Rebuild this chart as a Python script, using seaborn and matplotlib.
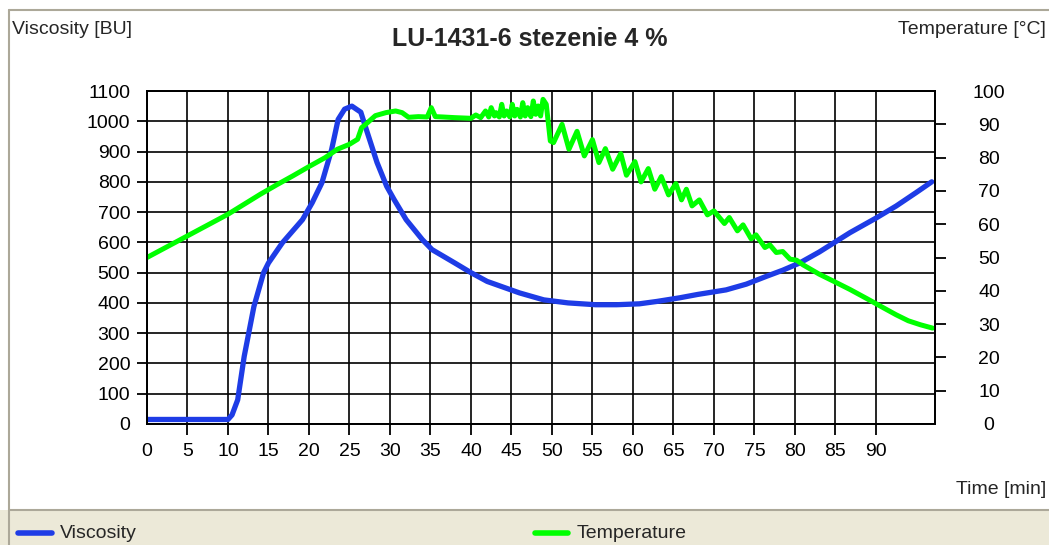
import matplotlib
matplotlib.use("Agg")
import matplotlib.pyplot as plt
import seaborn as sns
from matplotlib.lines import Line2D
from matplotlib.patches import Rectangle

# -----------------------------------------
# DATA
# -----------------------------------------

visc_time = [0, 2, 4, 6, 8, 10, 10.5, 11.2, 12, 13.2, 14.4, 15, 16.7, 19.2, 20.4,
             21.6, 22.8, 23.6, 24.4, 25.3, 26.4, 27.2, 28.4, 29.6, 30.5, 32, 34,
             35.2, 38, 40, 42, 46, 49, 52, 55.4, 58, 60.8, 63, 65.8, 68, 71.5, 74,
             76.5, 78.5, 80.6, 83, 86.8, 90, 92.5, 95, 96.9]
visc_bu = [15, 15, 15, 15, 15, 15, 30, 80, 223, 388, 500, 532, 598, 675, 731,
           797, 907, 1006, 1040, 1050, 1030, 963, 864, 785, 742, 675, 609,
           576, 532, 500, 471, 433, 410, 400, 394, 394, 397, 405, 417, 428, 443, 462,
           488, 508, 532, 568, 632, 680, 720, 765, 800]

temp_time = [0, 2, 4, 6, 8, 10, 12, 14, 16, 18, 20, 22, 23.5, 25, 26, 26.5, 27,
             28.2, 29.5, 30.7, 31.5, 32.3, 33.5, 34.6, 35.1, 35.6, 36.5, 38, 40,
             40.6, 41.2, 41.8, 42.2, 42.5, 42.9, 43.1, 43.5, 43.8, 44.1, 44.4, 44.8,
             45.1, 45.4, 45.7, 46.1, 46.4, 46.7, 47, 47.4, 47.7, 48, 48.3, 48.6,
             48.9, 49.3, 49.8, 50.2, 51.25, 52.1, 53.1, 54, 55, 55.8, 56.6, 57.5,
             58.5, 59.2, 60.25, 61, 61.9, 62.7, 63.5, 64.4, 65.3, 66, 66.6, 67.3,
             68.2, 69.2, 70, 71.3, 71.9, 72.9, 73.6, 74.6, 75.2, 76.3, 76.9, 77.7,
             78.5, 79.4, 80.2, 81, 83, 85, 86.8, 89, 91, 92.5, 94, 95.5, 97]
temp_c = [50, 52.6, 55.2, 57.8, 60.4, 63, 66, 69, 71.8, 74.5, 77.3, 80, 82.5, 84,
          85.5, 89, 90, 92.6, 93.5, 94, 93.5, 92.1, 92.3, 92.2, 95, 92.3, 92.2, 92,
          91.8, 92.8, 92, 94, 92.2, 95, 92.5, 93.5, 92.2, 96, 92.5, 94, 92.2,
          96, 92.5, 94.5, 92.2, 96.5, 92.5, 95, 92.3, 97, 93, 95.5, 92.5,
          97.5, 96, 85, 84.5, 90, 82.5, 87.9, 80.5, 85.4, 78.5, 82.7, 76.5, 81.2,
          74.7, 78.8, 72.7, 76.7, 70.5, 74.3, 68.8, 72.2, 67.3, 70.5, 65.5, 67.3,
          62.8, 64, 60.2, 62, 58, 59.8, 55.6, 56.8, 53, 53.8, 51.5, 51.8, 49.5,
          49.2, 47.8, 45, 42.6, 40.4, 37.5, 34.8, 32.8, 31, 29.8, 28.8]

time_ticks = list(range(0, 95, 5))
visc_ticks = list(range(0, 1200, 100))
temp_ticks = list(range(0, 110, 10))

blue = "#1E3CE6"
green = "#00FF00"

# -----------------------------------------
# STYLE
# -----------------------------------------
sns.set_style("white")
plt.rcParams["font.family"] = ["Liberation Sans", "DejaVu Sans"]

fig = plt.figure(figsize=(10.49, 5.45), dpi=100)
ax = fig.add_axes([147 / 1049, 1 - 424 / 545, (935 - 147) / 1049, (424 - 91) / 545])
ax2 = ax.twinx()

sns.lineplot(x=visc_time, y=visc_bu, ax=ax, color=blue, linewidth=3.8)
sns.lineplot(x=temp_time, y=temp_c, ax=ax2, color=green, linewidth=3.6)

ax.set_xlim(0, 97.3)
ax.set_ylim(0, 1100)
ax2.set_ylim(0, 100)

ax.set_xticks(time_ticks)
ax.set_yticks(visc_ticks)
ax2.set_yticks(temp_ticks)
ax.grid(True, color="black", linewidth=1.2)
ax.set_axisbelow(True)
ax2.grid(False)

for a in (ax, ax2):
    for s in a.spines.values():
        s.set_color("black")
        s.set_linewidth(1.3)
    a.set_xlabel("")
    a.set_ylabel("")

ax.tick_params(axis="x", length=8, width=1.3, color="black", pad=6,
               labelsize=14, labelcolor="black", bottom=True)
ax.tick_params(axis="y", length=7, width=1.3, color="black", pad=5,
               labelsize=14, labelcolor="black", left=True)
ax2.tick_params(axis="y", length=8, width=1.3, color="black", pad=31,
                labelsize=14, labelcolor="black", right=True)
for lab in ax2.get_yticklabels():
    lab.set_horizontalalignment("center")

# no tick stubs at the corners
ax.xaxis.get_major_ticks()[0].tick1line.set_visible(False)
ax.yaxis.get_major_ticks()[0].tick1line.set_visible(False)
ax.yaxis.get_major_ticks()[-1].tick1line.set_visible(False)
ax2.yaxis.get_major_ticks()[0].tick2line.set_visible(False)
ax2.yaxis.get_major_ticks()[-1].tick2line.set_visible(False)

# -----------------------------------------
# TEXTS
# -----------------------------------------
fig.text(12 / 1049, 1 - 30 / 545, "Viscosity [BU]", fontsize=14, ha="left", va="center")
fig.text(1046 / 1049, 1 - 30 / 545, "Temperature [°C]", fontsize=14, ha="right", va="center")
fig.text(530 / 1049, 1 - 39 / 545, "LU-1431-6 stezenie 4 %", fontsize=18,
         fontweight="bold", ha="center", va="center")
fig.text(1046 / 1049, 1 - 490 / 545, "Time [min]", fontsize=14, ha="right", va="center")

# frame and legend band
fig.patches.append(Rectangle((0, 0), 1, 35 / 545, transform=fig.transFigure,
                             facecolor="#ECE9D8", edgecolor="none", zorder=0))
fig.add_artist(Line2D([9 / 1049, 1], [1 - 510 / 545] * 2, color="#ACA899", lw=1.5))
fig.add_artist(Line2D([9 / 1049, 1], [1 - 10 / 545] * 2, color="#ACA899", lw=1.5))
fig.add_artist(Line2D([9 / 1049] * 2, [0, 1 - 10 / 545], color="#ACA899", lw=1.5))

ly = 1 - 533 / 545
fig.add_artist(Line2D([18 / 1049, 52 / 1049], [ly, ly], color=blue, lw=4,
                      solid_capstyle="round"))
fig.text(60 / 1049, ly, "Viscosity", fontsize=14, ha="left", va="center")
fig.add_artist(Line2D([535 / 1049, 568 / 1049], [ly, ly], color=green, lw=4,
                      solid_capstyle="round"))
fig.text(577 / 1049, ly, "Temperature", fontsize=14, ha="left", va="center")

fig.savefig("out.png", dpi=100)
